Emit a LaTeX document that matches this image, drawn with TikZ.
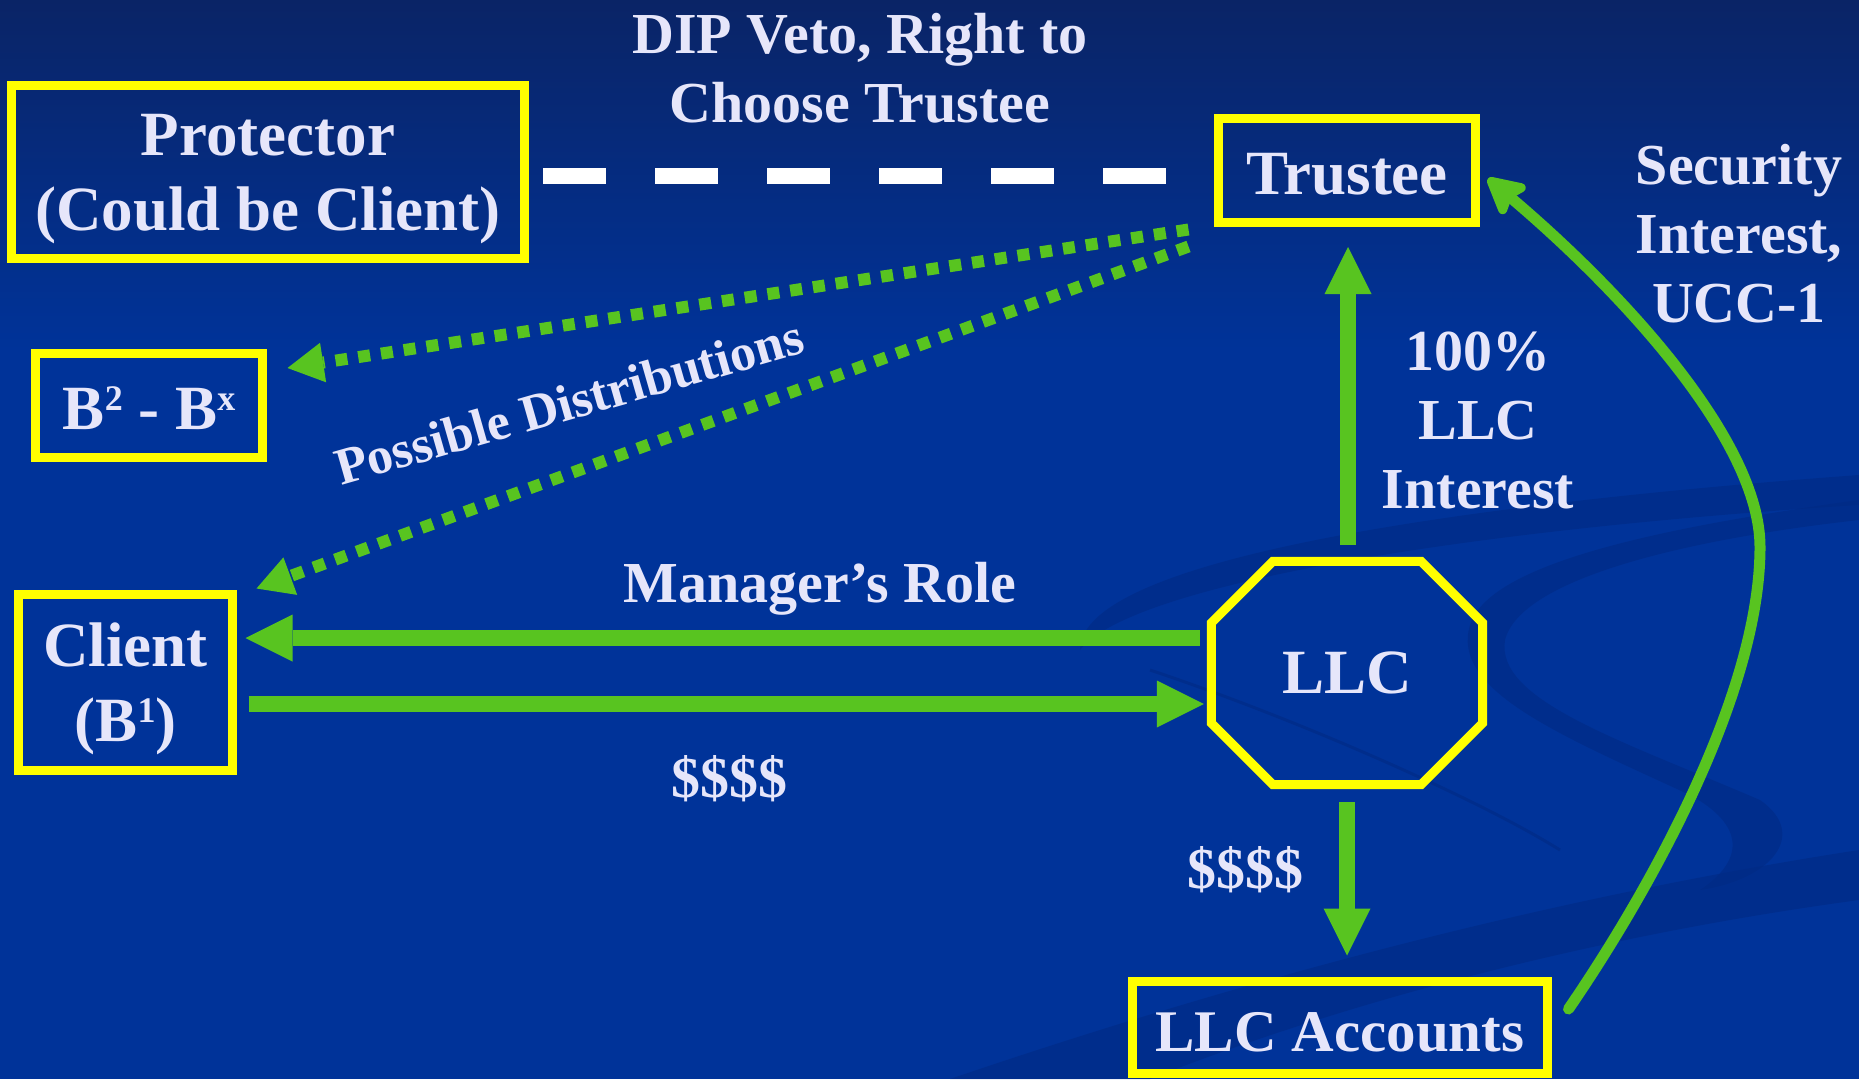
\documentclass[tikz,border=0pt]{standalone}
\usepackage{fontspec}
\setmainfont{Liberation Serif}
\usetikzlibrary{arrows.meta,calc}

\definecolor{bgblue}{RGB}{0,51,153}
\definecolor{bgtop}{RGB}{10,36,102}
\definecolor{swooshblue}{RGB}{0,42,132}
\definecolor{boxyellow}{RGB}{255,255,0}
\definecolor{arrowgreen}{RGB}{88,196,32}
\definecolor{labeltext}{RGB}{230,230,250}

% line strut for boxed text: fixes the baseline inside the boxes
\newcommand{\bxstrut}{\rule[-10pt]{0pt}{67pt}}
% raised small superscript
\newcommand{\supr}[1]{\raisebox{19pt}{\fontsize{36}{36}\selectfont #1}}

\begin{document}
\begin{tikzpicture}[x=1pt,y=-1pt,
  box/.style={draw=boxyellow, line width=9pt, inner sep=0pt, text=labeltext,
    font=\fontsize{63}{75}\selectfont\bfseries, align=center},
  lbl/.style={text=labeltext, font=\fontsize{58}{69}\selectfont\bfseries,
    align=center, inner sep=0pt},
  bigarrow/.style={draw=arrowgreen, line width=16pt,
    -{Triangle[length=47pt,width=47pt,line width=0pt]}},
  dotarrow/.style={draw=arrowgreen, line width=12pt, dash pattern=on 12pt off 11pt,
    -{Triangle[length=36pt,width=40pt,line width=0pt]}},
  curvearrow/.style={draw=arrowgreen, line width=11pt, line cap=round,
    -{Stealth[length=44pt,width=46pt,inset=8pt,round]}},
  dashline/.style={draw=white, line width=16pt, dash pattern=on 63pt off 49pt},
  swoosh/.style={fill=swooshblue, opacity=0.6}
]
\useasboundingbox (0,0) rectangle (1859,1079);

% background
\fill[bgblue] (0,0) rectangle (1859,1079);
\shade[top color=bgtop, bottom color=bgblue] (0,0) rectangle (1859,350);

% faint background swooshes
\fill[swoosh] (1080,650) .. controls (1080,560) and (1450,505) .. (1859,475)
  -- (1859,505) .. controls (1460,530) and (1130,585) .. (1080,650) -- cycle;
\fill[swoosh] (1859,520) .. controls (1680,540) and (1520,580) .. (1505,640)
  .. controls (1495,700) and (1620,740) .. (1760,800)
  .. controls (1810,835) and (1770,880) .. (1700,890)
  .. controls (1745,860) and (1745,825) .. (1690,795)
  .. controls (1560,735) and (1450,690) .. (1470,625)
  .. controls (1490,560) and (1680,525) .. (1859,500) -- cycle;
\fill[swoosh] (950,1079) .. controls (1300,960) and (1600,890) .. (1859,850)
  -- (1859,900) .. controls (1600,935) and (1350,1000) .. (1150,1079) -- cycle;
\draw[draw=swooshblue, opacity=0.6, line width=3pt]
  (1150,670) .. controls (1300,720) and (1480,800) .. (1560,850);

% boxes
\node[box, minimum width=513pt, minimum height=173pt] (protector) at (268,171.5)
  {\bxstrut Protector\\\bxstrut (Could be Client)};
\node[box, minimum width=257pt, minimum height=104pt] (trustee) at (1347,170.5)
  {\bxstrut Trustee};
\node[box, minimum width=227pt, minimum height=104pt] (bsup) at (149,405.5)
  {\bxstrut B\supr{2} - B\supr{x}};
\node[box, minimum width=214pt, minimum height=176pt] (client) at (125.5,682.5)
  {\bxstrut Client\\\bxstrut (B\supr{1})};
\node[box, minimum width=415pt, minimum height=92pt,
  font=\fontsize{59}{70}\selectfont\bfseries] (accounts) at (1340,1027.5)
  {\bxstrut LLC Accounts};

% octagon for the LLC
\node[lbl, font=\fontsize{63}{75}\selectfont\bfseries, minimum width=271pt,
  minimum height=223pt, text height=40pt, text depth=0pt] (llc) at (1347,673) {LLC};
\draw[draw=boxyellow, line width=9pt, line join=miter]
  ($(llc.north)+(-74,0)$) -- ($(llc.north)+(74,0)$)
  -- ($(llc.east)+(0,-50)$) -- ($(llc.east)+(0,50)$)
  -- ($(llc.south)+(74,0)$) -- ($(llc.south)+(-74,0)$)
  -- ($(llc.west)+(0,50)$) -- ($(llc.west)+(0,-50)$) -- cycle;

% labels
\node[lbl] (dip) at (860,73.7) {\strut DIP Veto, Right to\\\strut Choose Trustee};
\node[lbl] (pct) at (1478,425.7) {\strut 100\%\\\strut LLC\\\strut Interest};
\node[lbl] (sec) at (1739,240) {\strut Security\\\strut Interest,\\\strut UCC-1};
\node[lbl, anchor=base] (mgr) at (820,602) {Manager’s Role};
\node[lbl, anchor=base] (cashleft) at (729,797) {\$\$\$\$};
\node[lbl, anchor=base] (cashdown) at (1245,888) {\$\$\$\$};
\node[lbl, font=\fontsize{52}{62}\selectfont\bfseries, rotate=16, anchor=base]
  (possible) at (574,419) {Possible Distributions};

% connectors
\draw[dashline] ($(protector.east)+(14,4.5)$) -- ($(trustee.west)+(0,5.5)$);
\draw[dotarrow] ($(trustee.south west)+(-25.5,2.5)$) -- ($(bsup.east)+(20.5,-37.5)$);
\draw[dotarrow] ($(trustee.south west)+(-25.5,19.5)$) -- ($(client.north east)+(19.5,-1.5)$);
\draw[bigarrow] ($(llc.west)+(-11.5,-35)$) -- ($(client.east)+(8.5,-44.5)$);
\draw[bigarrow] ($(client.east)+(11.5,21.5)$) -- ($(llc.west)+(-7.5,31)$);
\draw[bigarrow] ($(llc.north)+(1,-16.5)$) -- ($(trustee.south)+(1,20)$);
\draw[bigarrow] ($(llc.south)+(0,17.5)$) -- ($(accounts.north)+(7,-21.5)$);
\draw[curvearrow] ($(accounts.east)+(16.5,-18.5)$)
  .. controls (1640,905) and (1760,700) .. (1760,547)
  .. controls (1760,440) and (1620,290) .. ($(trustee.east)+(8,8)$);
\end{tikzpicture}
\end{document}
